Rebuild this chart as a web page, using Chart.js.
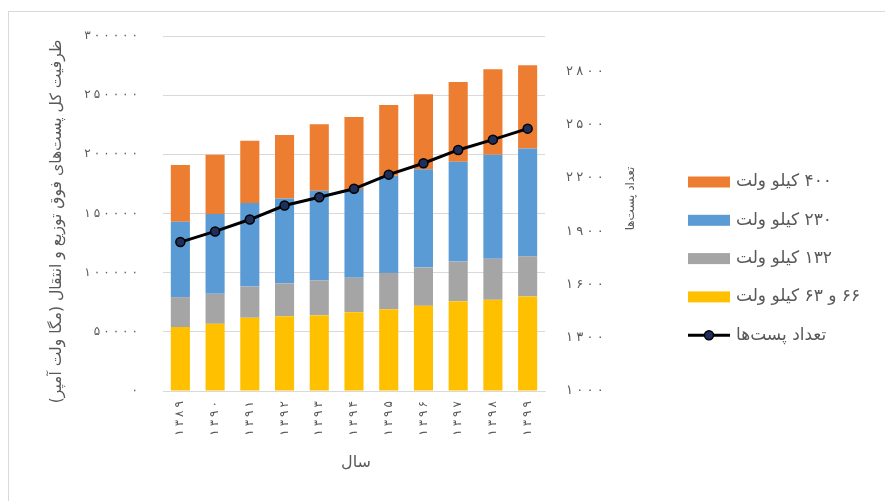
<!DOCTYPE html>
<html lang="fa">
<head>
<meta charset="utf-8">
<title>ظرفیت پست‌های فوق توزیع و انتقال</title>
<script src="https://cdn.jsdelivr.net/npm/chart.js@4.4.1/dist/chart.umd.min.js"></script>
<style>
    html, body { margin: 0; padding: 0; background: #fff; overflow: hidden; }
    .frame { position: absolute; left: 8px; top: 11px; width: 900px; height: 600px; border: 1px solid #d9d9d9; }
    #chart { position: absolute; left: 0; top: 0; }
</style>
</head>
<body>
<div class="frame"></div>
<canvas id="chart" width="885" height="501"></canvas>
<script>
// ============================================
// DATA
// ============================================
const years = ['۱۳۸۹', '۱۳۹۰', '۱۳۹۱', '۱۳۹۲', '۱۳۹۳', '۱۳۹۴', '۱۳۹۵', '۱۳۹۶', '۱۳۹۷', '۱۳۹۸', '۱۳۹۹'];

// capacity per voltage level (MVA)
const kv66and63 = [54000, 56800, 61900, 63200, 64100, 66600, 69100, 72000, 75900, 77100, 79900];
const kv132 = [25300, 25300, 26400, 27800, 29300, 29000, 30700, 32500, 33500, 34600, 34000];
const kv230 = [63800, 67500, 70600, 71700, 75900, 75000, 82000, 83000, 84300, 87900, 91100];
const kv400 = [47800, 50000, 52500, 53700, 56200, 61000, 59900, 63200, 67500, 72300, 70300];

// number of substations
const stationCount = [1839, 1899, 1966, 2045, 2092, 2139, 2219, 2283, 2358, 2416, 2478];

// axis ticks
const capacityTicks = [0, 50000, 100000, 150000, 200000, 250000, 300000];
const countTicks = [1000, 1300, 1600, 1900, 2200, 2500, 2800];

const seriesLabels = ['۶۶ و ۶۳ کیلو ولت', '۱۳۲ کیلو ولت', '۲۳۰ کیلو ولت', '۴۰۰ کیلو ولت', 'تعداد پست‌ها'];
const leftTitle = 'ظرفیت کل پست‌های فوق توزیع و انتقال (مگا ولت آمپر)';
const rightTitle = 'تعداد پست‌ها';
const xTitle = 'سال';

const FONT = 'DejaVu Sans';
const TEXT_COLOR = '#595959';

function toPersianDigits(n) {
    return String(n).replace(/\d/g, d => '۰۱۲۳۴۵۶۷۸۹'[d]);
}

// digits on the axes are drawn a little apart
function spaced(s) {
    return Array.from(s).join('\u2005');
}

// ============================================
// PLUGINS
// ============================================
function drawText(ctx, text, x, y, size, angle) {
    ctx.save();
    ctx.translate(x, y);
    if (angle) ctx.rotate(angle);
    ctx.direction = 'rtl';
    ctx.font = size + 'px "' + FONT + '"';
    ctx.fillStyle = TEXT_COLOR;
    ctx.textAlign = 'center';
    ctx.textBaseline = 'middle';
    ctx.fillText(text, 0, 0);
    ctx.restore();
}

// axis titles, the side ones read bottom-to-top
const axisTitlesPlugin = {
    id: 'axisTitles',
    afterDraw(chart) {
        const ctx = chart.ctx;
        const area = chart.chartArea;
        const midY = (area.top + area.bottom) / 2;
        drawText(ctx, leftTitle, chart.scales.y.left + 8, midY + 8, 15.6, -Math.PI / 2);
        drawText(ctx, rightTitle, chart.scales.y2.right - 14, midY - 15, 12, -Math.PI / 2);
        drawText(ctx, xTitle, (area.left + area.right) / 2 + 2, chart.scales.x.bottom - 17, 16, 0);
    }
};

// legend: bars top-down first, line last
const sideLegendPlugin = {
    id: 'sideLegend',
    afterDraw(chart) {
        const ctx = chart.ctx;
        const sets = chart.data.datasets;
        const items = [sets[3], sets[2], sets[1], sets[0], sets[4]];
        const x0 = 688;
        const boxW = 42;
        let y = 182;

        ctx.save();
        ctx.font = '17px "' + FONT + '"';
        ctx.textBaseline = 'middle';
        ctx.textAlign = 'left';
        ctx.direction = 'rtl';

        items.forEach(ds => {
            if (ds.type === 'line') {
                ctx.strokeStyle = ds.borderColor;
                ctx.lineWidth = ds.borderWidth;
                ctx.beginPath();
                ctx.moveTo(x0, y);
                ctx.lineTo(x0 + boxW, y);
                ctx.stroke();
                ctx.beginPath();
                ctx.arc(x0 + boxW / 2, y, ds.pointRadius, 0, Math.PI * 2);
                ctx.fillStyle = ds.pointBackgroundColor;
                ctx.fill();
                ctx.lineWidth = ds.pointBorderWidth;
                ctx.strokeStyle = ds.pointBorderColor;
                ctx.stroke();
            } else {
                ctx.fillStyle = ds.backgroundColor;
                ctx.fillRect(x0, y - 5.5, boxW, 11);
            }
            ctx.fillStyle = TEXT_COLOR;
            ctx.fillText(ds.label, x0 + boxW + 6, y);
            y += 38.3;
        });
        ctx.restore();
    }
};

// ============================================
// CHART
// ============================================
function barSet(label, data, color) {
    return {
        type: 'bar',
        label: label,
        data: data,
        backgroundColor: color,
        borderWidth: 0,
        yAxisID: 'y',
        stack: 'capacity',
        order: 1,
        barPercentage: 0.55,
        categoryPercentage: 1
    };
}

function fixedTicks(values) {
    return scale => { scale.ticks = values.map(v => ({ value: v })); };
}

function initChart() {
    const ctx = document.getElementById('chart');
    if (!ctx) return;

    new Chart(ctx, {
        data: {
            labels: years,
            datasets: [
                barSet(seriesLabels[0], kv66and63, '#FFC000'),
                barSet(seriesLabels[1], kv132, '#A5A5A5'),
                barSet(seriesLabels[2], kv230, '#5B9BD5'),
                barSet(seriesLabels[3], kv400, '#ED7D31'),
                {
                    type: 'line',
                    label: seriesLabels[4],
                    data: stationCount,
                    yAxisID: 'y2',
                    order: 0,
                    borderColor: '#000000',
                    borderWidth: 3,
                    pointRadius: 4.5,
                    pointBackgroundColor: '#1f2f5c',
                    pointBorderColor: '#000000',
                    pointBorderWidth: 1.5,
                    tension: 0
                }
            ]
        },
        options: {
            responsive: false,
            animation: false,
            layout: {
                padding: { left: 49, top: 36, right: 240, bottom: 21 }
            },
            plugins: {
                legend: { display: false },
                tooltip: { enabled: false }
            },
            scales: {
                x: {
                    stacked: true,
                    afterFit: s => { s.height = 89; },
                    grid: { display: false, drawTicks: false },
                    border: { display: true, color: '#d9d9d9' },
                    ticks: {
                        minRotation: 90,
                        maxRotation: 90,
                        padding: 10,
                        color: TEXT_COLOR,
                        font: { family: FONT, size: 12 },
                        callback: function (v) { return spaced(this.getLabelForValue(v)); }
                    }
                },
                y: {
                    position: 'left',
                    stacked: true,
                    min: 0,
                    max: 300000,
                    afterFit: s => { s.width = 114; },
                    afterBuildTicks: fixedTicks(capacityTicks),
                    grid: { color: '#d9d9d9', drawTicks: false },
                    border: { display: false },
                    ticks: {
                        padding: 25,
                        color: TEXT_COLOR,
                        font: { family: FONT, size: 12 },
                        callback: v => spaced(toPersianDigits(v))
                    }
                },
                y2: {
                    position: 'right',
                    min: 1000,
                    max: 3000,
                    afterFit: s => { s.width = 100; },
                    afterBuildTicks: fixedTicks(countTicks),
                    grid: { display: false, drawTicks: false },
                    border: { display: false },
                    ticks: {
                        padding: 21,
                        color: TEXT_COLOR,
                        font: { family: FONT, size: 13 },
                        callback: v => spaced(toPersianDigits(v))
                    }
                }
            }
        },
        plugins: [axisTitlesPlugin, sideLegendPlugin]
    });
}

initChart();
</script>
</body>
</html>
